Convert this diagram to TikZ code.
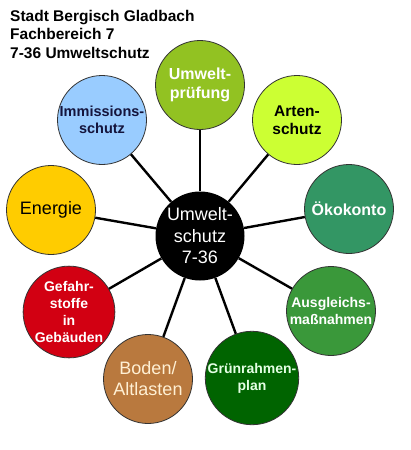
\documentclass[tikz,border=0pt]{standalone}
\usepackage{fontspec}
\setmainfont{Liberation Sans}
\usepackage{tikz}

\definecolor{pruefgreen}{RGB}{146,194,34}
\definecolor{artenlime}{RGB}{204,255,51}
\definecolor{immblue}{RGB}{153,204,255}
\definecolor{energiegold}{RGB}{255,204,0}
\definecolor{oekogreen}{RGB}{51,150,100}
\definecolor{ausgleichgreen}{RGB}{58,152,58}
\definecolor{gruendark}{RGB}{0,100,0}
\definecolor{bodenbrown}{RGB}{185,121,62}
\definecolor{gefahrred}{RGB}{210,0,18}
\definecolor{navytext}{RGB}{20,20,60}
\definecolor{creamtext}{RGB}{255,240,212}
\definecolor{paletext}{RGB}{228,255,228}

\begin{document}
\begin{tikzpicture}[
x=1pt, y=-1pt,
bubble/.style={circle, draw=black!80, line width=0.8pt, minimum size=89pt, inner sep=0pt, align=center},
hub/.style={circle, fill=black, text=white, minimum size=89pt, inner sep=0pt, align=center,
  font=\fontsize{18}{21.5}\selectfont},
boldtext/.style 2 args={font=\fontsize{#1}{#2}\selectfont\bfseries},
plaintext/.style 2 args={font=\fontsize{#1}{#2}\selectfont},
spoke/.style={line width=2.4pt, black},
]
\useasboundingbox (0,0) rectangle (410,450);

%Title
\node[anchor=north west, inner sep=0pt, align=left, font=\fontsize{15.5}{18.5}\selectfont\bfseries]
  (title) at (10,10) {Stadt Bergisch Gladbach\\Fachbereich 7\\7-36 Umweltschutz};

%Nodes
\node[hub] (hub) at (200,236) {Umwelt-\\schutz\\7-36};
\node[bubble, fill=pruefgreen, text=white, boldtext={16}{18.5}]       (pruef)   at (200,85)  {Umwelt-\\prüfung};
\node[bubble, fill=artenlime, text=black, boldtext={15.5}{18}]        (arten)   at (297,120) {Arten-\\schutz};
\node[bubble, fill=oekogreen, text=white, boldtext={16}{18}]          (oeko)    at (349,209) {Ökokonto};
\node[bubble, fill=ausgleichgreen, text=white, boldtext={14}{17.5}]   (ausgl)   at (331,311) {Ausgleichs-\\maßnahmen};
\node[bubble, fill=gruendark, text=paletext, boldtext={14}{17}]       (gruen)   at (252,378) {Grünrahmen-\\plan};
\node[bubble, fill=bodenbrown, text=creamtext, plaintext={18}{21}]    (boden)   at (148,379) {Boden/\\Altlasten};
\node[bubble, fill=gefahrred, text=white, boldtext={14}{17}]          (gefahr)  at (69,312)  {Gefahr-\\stoffe\\in\\Gebäuden};
\node[bubble, fill=energiegold, text=black, plaintext={18}{21}]       (energie) at (51,210)  {Energie};
\node[bubble, fill=immblue, text=navytext, boldtext={14.5}{16.5}]     (immis)   at (102,120) {Immissions-\\schutz};

%Lines
\foreach \leaf in {pruef, arten, oeko, ausgl, gruen, boden, gefahr, energie, immis}
  \draw[spoke] (hub) -- (\leaf);
\end{tikzpicture}
\end{document}
